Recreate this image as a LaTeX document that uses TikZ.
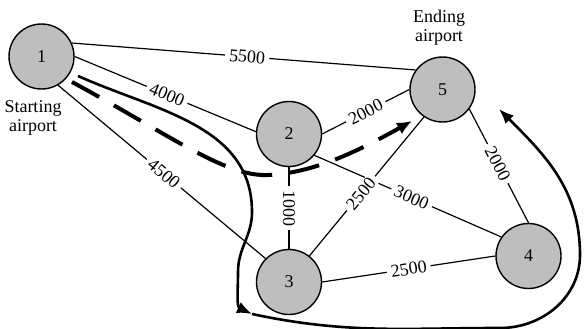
\documentclass[tikz,border=0pt]{standalone}
\usepackage{fontspec}
\setmainfont{Liberation Serif}
\usetikzlibrary{arrows.meta}
\definecolor{airgray}{RGB}{190,190,190}
\tikzset{
  airport/.style={circle, draw=black, line width=1.4pt, fill=airgray,
    minimum size=65pt, inner sep=0pt, font=\fontsize{18}{20}\selectfont},
  flight/.style={line width=1.2pt},
  lbl/.style={fill=white, inner xsep=4pt, inner ysep=1pt,
    font=\fontsize{18}{20}\selectfont},
  caption/.style={align=center, font=\fontsize{18}{19}\selectfont, inner sep=0pt},
  route/.style={line width=2.6pt},
  tryroute/.style={line width=4pt, dash pattern=on 31pt off 17pt},
  tip/.style={-{Latex[length=15pt,width=12pt]}}
}
\begin{document}
\begin{tikzpicture}[x=1pt,y=1pt]
  \useasboundingbox (0,0) rectangle (584,-329);

  % airports
  \node[airport] (n1) at (41.5,-56.5) {1};
  \node[airport] (n2) at (289,-134) {2};
  \node[airport] (n5) at (442.5,-89.5) {5};
  \node[airport] (n3) at (289,-282) {3};
  \node[airport] (n4) at (528.5,-256) {4};

  \node[caption] (start) at (33,-117.5) {Starting\\airport};
  \node[caption] (end) at (439,-28) {Ending\\airport};

  % flights with distances
  \draw[flight] (n1.24) -- node[lbl, sloped, pos=0.51] {5500} (n5.144);
  \draw[flight] (n1.0) -- node[lbl, sloped, pos=0.51] {4000} (n2.176);
  \draw[flight] (n1.-60) -- node[lbl, sloped, pos=0.51] {4500} (n3.135);
  \draw[flight] (n2.0) -- node[lbl, sloped, pos=0.5] {2000} (n5.180);
  \draw[flight] (n2.south) -- node[lbl, rotate=-90] {1000} (n3.north);
  \draw[flight] (n2.-40) -- node[lbl, sloped, pos=0.52] {3000} (n4.145);
  \draw[flight] (n3.52) -- node[lbl, sloped, pos=0.45] {2500} (n5.-124);
  \draw[flight] (n3.0) -- node[lbl, sloped, pos=0.5] {2500} (n4.180);
  \draw[flight] (n5.-36) -- node[lbl, sloped, pos=0.48] {2000} (n4.90);

  % long route round the network
  \coordinate (s0) at (78,-76);
  \coordinate (s1) at (252,-212);
  \coordinate (s2) at (238,-272);
  \coordinate (s3) at (252,-314);
  \coordinate (s4) at (500,-328);
  \coordinate (s5) at (580,-255);
  \coordinate (s6) at (499,-109);
  \draw[route, tip] (s0) to[out=-24,in=90] (s1) to[out=-90,in=90] (s2)
    to[out=-90,in=155] (s3);
  \draw[route, tip] (s3) to[out=-12,in=180] (s4) to[out=0,in=-90] (s5)
    to[out=90,in=-45] (s6);

  % dashed short route
  \coordinate (d0) at (72,-82);
  \coordinate (dm) at (268,-175);
  \coordinate (d1) at (412,-121);
  \draw[tryroute, -{Latex[length=15pt,width=13pt]}] (d0)
    .. controls (170,-135) and (225,-177) .. (dm)
    .. controls (315,-173) and (360,-150) .. (d1);
\end{tikzpicture}
\end{document}
